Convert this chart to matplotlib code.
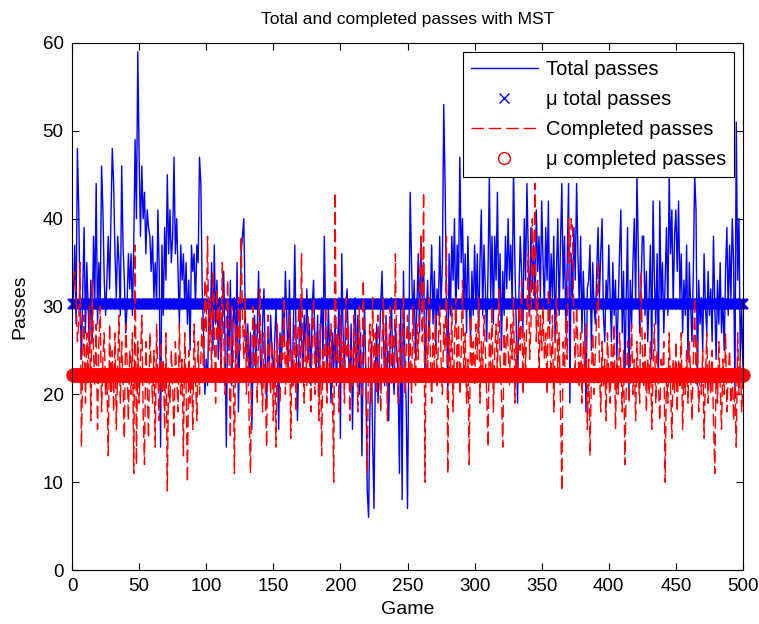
import numpy as np
import matplotlib.pyplot as plt

plt.rcParams['font.family'] = ['Liberation Sans', 'DejaVu Sans']

# total passes per game (games 1..500)
total_passes = [
    31, 37, 28, 48, 41, 30, 24, 32, 39, 27, 35, 30, 25, 33, 26, 38, 31, 44, 28, 35, 30, 46, 41, 33, 29,
    33, 38, 32, 40, 48, 44, 36, 31, 38, 35, 29, 46, 37, 33, 27, 30, 36, 32, 36, 29, 37, 49, 40, 59, 47,
    38, 46, 40, 43, 36, 41, 39, 38, 34, 38, 31, 35, 30, 41, 34, 14, 37, 29, 39, 33, 45, 36, 41, 35, 38,
    47, 36, 40, 34, 28, 37, 33, 36, 30, 35, 28, 33, 25, 37, 34, 36, 30, 37, 35, 47, 44, 32, 27, 20, 24,
    21, 30, 27, 35, 25, 37, 28, 33, 24, 31, 22, 29, 34, 26, 14, 30, 25, 33, 21, 28, 31, 24, 35, 18, 27,
    36, 38, 40, 30, 24, 28, 22, 27, 16, 25, 29, 23, 27, 34, 26, 21, 28, 32, 24, 19, 27, 23, 29, 25, 22,
    26, 30, 24, 16, 27, 22, 31, 26, 34, 29, 23, 33, 25, 21, 28, 37, 26, 17, 24, 30, 27, 22, 29, 25, 32,
    24, 28, 21, 30, 33, 26, 23, 29, 20, 27, 31, 24, 38, 28, 22, 30, 25, 19, 27, 23, 29, 21, 26, 31, 15,
    36, 27, 22, 30, 32, 25, 21, 28, 16, 26, 31, 23, 29, 20, 27, 13, 24, 30, 22, 9, 6, 18, 26, 15, 7,
    22, 28, 19, 25, 30, 34, 27, 21, 29, 24, 17, 26, 31, 23, 20, 28, 25, 22, 11, 30, 8, 34, 24, 19, 7,
    26, 43, 35, 28, 33, 24, 30, 36, 27, 38, 31, 35, 22, 29, 33, 26, 31, 37, 28, 34, 25, 32, 29, 38, 30,
    35, 53, 44, 31, 20, 36, 29, 38, 33, 40, 28, 37, 32, 47, 35, 40, 30, 36, 27, 38, 31, 26, 34, 29, 37,
    30, 36, 27, 35, 41, 29, 37, 32, 26, 34, 45, 31, 38, 28, 38, 33, 43, 30, 36, 25, 34, 29, 38, 32, 40,
    33, 37, 30, 46, 35, 28, 19, 31, 38, 34, 27, 40, 33, 44, 36, 29, 39, 32, 37, 30, 41, 34, 38, 31, 42,
    35, 30, 39, 33, 42, 28, 36, 31, 38, 26, 34, 40, 29, 37, 44, 32, 38, 27, 35, 44, 19, 36, 31, 39, 33,
    44, 36, 30, 38, 27, 34, 29, 18, 32, 33, 37, 25, 35, 30, 28, 34, 39, 31, 36, 40, 29, 26, 33, 30, 37,
    31, 26, 35, 29, 33, 24, 30, 36, 41, 27, 34, 22, 31, 39, 20, 33, 28, 35, 40, 30, 45, 36, 27, 32, 38,
    38, 29, 34, 26, 31, 37, 24, 42, 33, 28, 36, 22, 42, 30, 35, 27, 33, 39, 29, 45, 36, 41, 30, 38, 41,
    34, 42, 31, 36, 27, 33, 29, 37, 24, 35, 30, 26, 34, 45, 41, 21, 33, 28, 31, 25, 36, 30, 27, 34, 29,
    32, 26, 38, 30, 24, 33, 28, 35, 27, 31, 25, 34, 39, 29, 37, 31, 40, 35, 20, 51, 33, 40, 24, 30, 23,
]

# completed passes per game
completed_passes = [
    33, 34, 31, 26, 28, 35, 14, 24, 29, 19, 27, 22, 30, 17, 33, 25, 21, 28, 16, 26, 30, 18, 24, 27, 20,
    22, 13, 28, 20, 25, 18, 27, 16, 23, 29, 19, 26, 21, 15, 28, 24, 17, 25, 20, 27, 11, 37, 12, 26, 19,
    24, 29, 18, 12, 26, 21, 15, 27, 23, 19, 25, 14, 28, 22, 17, 26, 20, 24, 16, 27, 9, 23, 19, 25, 21,
    15, 26, 22, 18, 28, 20, 24, 13, 27, 21, 10, 25, 19, 23, 16, 28, 22, 17, 26, 20, 24, 29, 21, 33, 27,
    38, 25, 31, 22, 34, 28, 19, 32, 26, 30, 23, 35, 27, 20, 29, 33, 24, 15, 30, 26, 11, 28, 22, 31, 25,
    38, 29, 24, 31, 20, 27, 17, 11, 25, 30, 22, 28, 19, 26, 32, 23, 18, 27, 21, 14, 29, 24, 20, 26, 17,
    25, 14, 28, 22, 19, 27, 24, 31, 20, 26, 23, 29, 15, 25, 21, 28, 18, 26, 30, 22, 36, 24, 19, 27, 21,
    29, 23, 18, 26, 31, 20, 27, 24, 17, 28, 13, 25, 22, 30, 19, 26, 23, 28, 21, 10, 43, 24, 27, 18, 29,
    22, 26, 19, 31, 24, 28, 17, 25, 21, 29, 23, 27, 18, 30, 24, 20, 33, 26, 22, 11, 25, 28, 19, 31, 23,
    27, 20, 29, 24, 18, 26, 31, 22, 28, 17, 25, 30, 21, 27, 23, 36, 24, 19, 28, 22, 26, 31, 20, 25, 29,
    23, 27, 19, 30, 25, 21, 28, 24, 32, 38, 26, 43, 10, 28, 22, 31, 25, 19, 27, 23, 29, 21, 26, 30, 24,
    20, 28, 25, 38, 11, 27, 22, 30, 18, 26, 31, 23, 28, 20, 25, 33, 22, 27, 19, 24, 12, 29, 23, 26, 21,
    28, 24, 31, 19, 26, 22, 29, 25, 20, 14, 27, 23, 30, 18, 25, 28, 22, 32, 24, 20, 14, 27, 23, 29, 25,
    21, 28, 24, 31, 19, 26, 22, 30, 25, 33, 20, 27, 23, 29, 36, 24, 28, 40, 31, 44, 26, 33, 22, 29, 25,
    30, 24, 27, 20, 32, 26, 22, 29, 18, 25, 31, 23, 27, 19, 9, 26, 22, 29, 24, 40, 35, 40, 39, 28, 23,
    30, 25, 21, 27, 19, 26, 23, 28, 16, 24, 13, 22, 27, 20, 25, 29, 35, 23, 18, 26, 21, 24, 17, 27, 22,
    19, 26, 22, 28, 16, 24, 20, 27, 23, 18, 25, 12, 21, 26, 19, 23, 28, 20, 24, 17, 26, 22, 19, 34, 25,
    21, 27, 18, 24, 20, 26, 16, 23, 28, 19, 25, 21, 17, 24, 22, 26, 10, 23, 19, 27, 21, 15, 24, 20, 26,
    18, 24, 21, 27, 16, 23, 20, 25, 19, 26, 22, 17, 24, 31, 21, 26, 18, 23, 20, 25, 15, 22, 27, 19, 24,
    20, 25, 17, 11, 23, 19, 26, 21, 16, 24, 20, 27, 18, 22, 25, 19, 23, 17, 21, 14, 27, 20, 24, 18, 22,
]

mu_total = 30.3
mu_completed = 22.2

games = np.arange(1, len(total_passes) + 1)

fig = plt.figure(figsize=(7.59, 6.24), dpi=100)
ax = fig.add_axes([0.0949, 0.0865, 0.884, 0.8446])

ax.plot(games, total_passes, '-', color='#0000ff', linewidth=1.0, label='Total passes')
ax.plot(games, np.full(len(games), mu_total), 'x', color='#0000ff', markersize=6.5,
        markeredgewidth=1.6, clip_on=False, label='\u03bc total passes')
ax.plot(games, completed_passes, '--', color='#ff0000', linewidth=1.0, dashes=(9, 3.5),
        label='Completed passes')
ax.plot(games, np.full(len(games), mu_completed), 'o', color='#ff0000', markersize=8.5,
        markerfacecolor='none', markeredgewidth=1.8, clip_on=False, label='\u03bc completed passes')

ax.set_xlim(0, 500)
ax.set_ylim(0, 60)
ax.set_xticks(np.arange(0, 501, 50))
ax.set_yticks(np.arange(0, 61, 10))
ax.tick_params(direction='in', top=True, right=True, labelsize=13.5, length=5, pad=6)

ax.set_title('Total and completed passes with MST', fontsize=12.5, pad=14)
ax.set_xlabel('Game', fontsize=14, labelpad=4)
ax.set_ylabel('Passes', fontsize=14, labelpad=10)

leg = ax.legend(loc='upper right', fontsize=14.5, handlelength=3.3, handletextpad=0.4,
                labelspacing=0.55, borderpad=0.4, borderaxespad=0.45,
                fancybox=False, edgecolor='black', framealpha=1)
leg.get_frame().set_linewidth(0.8)
# legend markers drawn at normal weight
for h in leg.legend_handles:
    h.set_markeredgewidth(1.0)

fig.savefig('out.png', dpi=100)
